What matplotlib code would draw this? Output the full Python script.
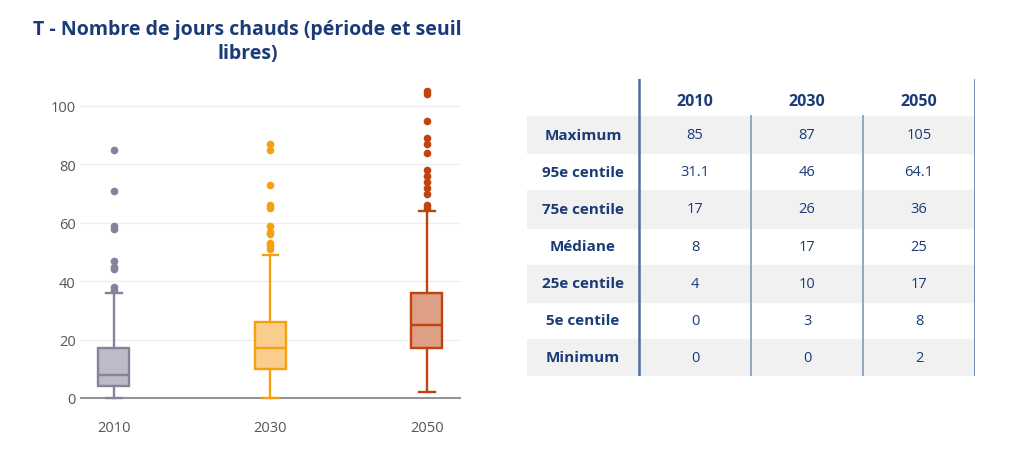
import numpy as np
import matplotlib.pyplot as plt

# data
years = ["2010", "2030", "2050"]
q1 = [4, 10, 17]
med = [8, 17, 25]
q3 = [17, 26, 36]
whislo = [0, 0, 2]
whishi = [36, 49, 64]
fliers = [
    [85, 71, 59, 58, 47, 45, 44, 38, 37],
    [87, 85, 73, 66, 65, 59, 57, 56, 53, 52, 51],
    [105, 104, 95, 89, 87, 84, 78, 76, 74, 72, 70, 66, 65],
]

row_labels = ["Maximum", "95e centile", "75e centile", "Médiane",
              "25e centile", "5e centile", "Minimum"]
table_vals = [
    ["85", "87", "105"],
    ["31.1", "46", "64.1"],
    ["17", "26", "36"],
    ["8", "17", "25"],
    ["4", "10", "17"],
    ["0", "3", "8"],
    ["0", "0", "2"],
]

line_cols = ["#85829a", "#f5a00f", "#c04410"]
fill_cols = ["#bcbbc8", "#f9cd8c", "#dd9f85"]
navy = "#1b3a78"

plt.rcParams['font.family'] = ['Open Sans', 'DejaVu Sans']

fig = plt.figure(figsize=(10.24, 4.64), dpi=100)

# ---- box plot ----
ax = fig.add_axes([0.078, 0.1024, 0.372, 0.730])
stats = []
for i in range(len(years)):
    stats.append(dict(label=years[i], q1=q1[i], med=med[i], q3=q3[i],
                      whislo=whislo[i], whishi=whishi[i], fliers=fliers[i]))

ax.axhline(0, color="#8a8a8a", lw=1.3, zorder=1)
for i, s in enumerate(stats):
    c = line_cols[i]
    ax.bxp([s], positions=[i], widths=0.2, capwidths=0.1, patch_artist=True,
           boxprops=dict(facecolor=fill_cols[i], edgecolor=c, linewidth=1.7),
           medianprops=dict(color=c, linewidth=1.7),
           whiskerprops=dict(color=c, linewidth=1.7),
           capprops=dict(color=c, linewidth=1.7),
           flierprops=dict(marker="o", markerfacecolor=c, markeredgecolor=c,
                           markersize=4.5),
           zorder=3)

ax.set_xlim(-0.217, 2.217)
ax.set_ylim(-6, 110)
ax.set_yticks([0, 20, 40, 60, 80, 100])
ax.set_xticks(range(len(years)))
ax.set_xticklabels(years)
ax.grid(axis="y", color="#eeeeee", lw=1)
ax.set_axisbelow(True)
for sp in ax.spines.values():
    sp.set_visible(False)
ax.tick_params(length=0, labelsize=10.5, colors="#555555", pad=3)
ax.tick_params(axis="x", pad=3)

fig.text(0.242, 0.91, "T - Nombre de jours chauds (période et seuil\nlibres)",
         ha="center", va="center", fontsize=14, fontweight="bold",
         color=navy, linespacing=1.25)

# ---- table ----
tx0, tx1, ty0, ty1 = 527, 975, 80, 377
W, H = 1024, 464
axt = fig.add_axes([tx0 / W, 1 - ty1 / H, (tx1 - tx0) / W, (ty1 - ty0) / H])
axt.set_xlim(0, 4)
axt.set_ylim(8, 0)
axt.axis("off")

for r in range(len(row_labels)):
    y = r + 1
    if r % 2 == 0:
        axt.axhspan(y, y + 1, color="#f1f1f1", zorder=0)
    axt.text(0.5, y + 0.5, row_labels[r], ha="center", va="center",
             fontsize=11, fontweight="bold", color=navy)
    for j in range(len(years)):
        axt.text(1.5 + j, y + 0.5, table_vals[r][j], ha="center",
                 va="center", fontsize=10.5, color=navy)
for j in range(len(years)):
    axt.text(1.5 + j, 0.6, years[j], ha="center", va="center",
             fontsize=11.5, fontweight="bold", color=navy)

axt.plot([1, 1], [0, 8], color="#4a6f9a", lw=1.8, zorder=3)
axt.plot([4, 4], [0, 8], color="#4a6f9a", lw=1.8, zorder=3)
for x in [2, 3]:
    axt.plot([x, x], [1, 8], color="#8ea6c2", lw=1.4, zorder=3)

fig.savefig("out.png", dpi=100)
